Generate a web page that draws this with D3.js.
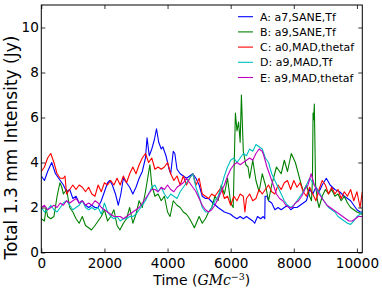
<!DOCTYPE html>
<html lang="en">
<head>
  <meta charset="UTF-8">
  <title>Total 1.3 mm Intensity</title>
  <script src="https://cdn.jsdelivr.net/npm/d3@7"></script>
  <style>
    body { margin: 0; background: #fff; }
    text { font-family: "DejaVu Sans", sans-serif; }
  </style>
</head>
<body>
  <svg id="chart" width="382" height="294"></svg>
  <script>
    // [time, intensity]
    const seriesA = [[0,3.4],[100,3.2],[200,3.6],[330,4.0],[450,3.5],[550,3.3],[700,3.0],[800,2.7],[900,2.8],[1000,2.4],[1100,2.5],[1200,2.2],[1300,2.3],[1400,2.1],[1500,2.0],[1600,2.1],[1700,2.0],[1800,2.0],[1900,2.3],[2000,2.7],[2100,3.1],[2170,3.2],[2250,3.0],[2350,2.6],[2440,2.1],[2520,2.6],[2600,3.3],[2700,3.1],[2800,2.9],[2900,2.6],[3000,2.9],[3100,3.3],[3200,3.6],[3300,4.2],[3350,5.1],[3420,4.3],[3500,4.6],[3580,5.0],[3650,5.5],[3720,4.9],[3800,4.6],[3850,4.7],[3950,4.3],[4050,3.7],[4100,3.5],[4180,4.5],[4230,4.4],[4300,3.7],[4400,3.5],[4500,3.4],[4600,3.3],[4700,3.4],[4800,3.5],[4900,3.3],[5000,3.0],[5100,2.5],[5200,2.4],[5300,2.4],[5440,2.2],[5600,2.0],[5800,1.8],[6000,1.7],[6080,1.6],[6200,1.5],[6300,1.6],[6400,1.5],[6500,1.6],[6600,1.5],[6700,1.4],[6760,1.3],[6850,1.6],[6950,1.5],[7030,1.6],[7080,1.5],[7090,2.5],[7150,2.5],[7200,2.3],[7300,2.2],[7400,1.9],[7500,2.0],[7600,1.9],[7700,2.0],[7800,2.1],[7900,1.9],[8000,2.0],[8100,2.0],[8200,2.1],[8300,2.2],[8400,2.3],[8500,2.8],[8600,2.6],[8700,2.9],[8800,2.7],[8900,3.0],[9030,3.3],[9150,3.0],[9300,2.8],[9450,2.7],[9600,2.5],[9700,2.4],[9800,2.3],[9900,2.1],[10000,1.9],[10100,1.8],[10170,1.8]];
    const seriesB = [[0,1.5],[100,1.4],[150,2.0],[200,1.6],[300,1.5],[400,1.6],[500,2.5],[590,3.1],[650,2.9],[700,2.6],[800,2.8],[900,2.0],[1000,1.8],[1100,1.5],[1200,1.3],[1300,1.6],[1400,1.2],[1500,1.1],[1590,1.0],[1700,1.2],[1800,1.4],[1900,1.6],[2000,1.9],[2100,1.4],[2200,1.6],[2300,1.9],[2400,1.2],[2490,1.0],[2600,1.3],[2700,1.5],[2800,2.0],[2900,1.3],[3000,1.7],[3100,2.3],[3200,2.0],[3300,2.7],[3440,3.9],[3500,3.0],[3600,2.5],[3700,2.6],[3800,2.3],[3900,2.5],[4000,1.8],[4080,1.6],[4180,2.3],[4300,2.1],[4400,2.0],[4500,1.8],[4600,1.7],[4700,1.5],[4850,1.1],[5000,1.6],[5100,1.3],[5200,1.5],[5300,1.8],[5400,2.0],[5500,2.5],[5600,2.3],[5700,3.0],[5800,2.6],[5900,3.3],[6000,2.2],[6080,2.0],[6150,6.2],[6200,5.4],[6250,5.8],[6300,4.9],[6340,7.0],[6400,4.5],[6480,3.9],[6550,3.8],[6600,3.3],[6700,4.1],[6800,3.2],[6900,2.7],[7000,3.5],[7100,3.0],[7200,2.3],[7300,3.0],[7450,3.8],[7600,3.5],[7700,4.1],[7800,3.6],[7920,4.4],[8050,4.0],[8200,3.2],[8300,2.7],[8400,3.0],[8500,2.5],[8560,2.3],[8590,3.2],[8610,6.2],[8630,5.9],[8650,6.6],[8690,3.0],[8750,2.3],[8800,2.0],[8900,2.5],[9000,2.8],[9100,2.6],[9200,2.8],[9300,2.5],[9400,2.6],[9500,2.3],[9600,2.5],[9700,2.2],[9800,2.0],[9900,1.9],[10000,1.8],[10170,1.7]];
    const seriesC = [[0,3.6],[100,3.8],[200,4.2],[300,4.4],[400,4.0],[500,3.5],[600,3.3],[700,3.3],[750,3.4],[800,2.6],[900,2.8],[1000,3.0],[1100,2.8],[1200,3.0],[1300,2.9],[1400,2.7],[1500,2.9],[1600,2.6],[1700,2.5],[1800,3.0],[1900,2.7],[2000,3.1],[2100,3.0],[2200,3.2],[2300,3.0],[2400,3.3],[2500,3.0],[2600,3.4],[2700,3.1],[2800,3.5],[2900,3.8],[3000,3.5],[3100,3.9],[3200,4.2],[3300,4.4],[3400,4.0],[3500,4.2],[3600,3.7],[3700,3.8],[3800,3.7],[3900,3.8],[4000,4.0],[4100,3.5],[4200,3.2],[4300,3.4],[4400,3.0],[4500,3.4],[4600,3.0],[4700,3.3],[4800,3.5],[4900,3.0],[5000,3.3],[5100,2.6],[5200,2.5],[5300,2.4],[5400,2.6],[5500,2.5],[5600,2.7],[5700,2.9],[5800,2.4],[5900,2.5],[6000,2.1],[6100,2.5],[6200,2.3],[6300,2.6],[6400,2.5],[6450,1.8],[6500,2.4],[6600,2.6],[6700,2.3],[6800,2.4],[6900,2.8],[7000,2.6],[7100,2.8],[7200,3.0],[7300,2.7],[7400,2.6],[7500,3.0],[7600,2.8],[7700,3.1],[7800,3.2],[7900,2.8],[8000,3.2],[8100,2.9],[8200,3.1],[8300,2.7],[8400,2.5],[8500,2.9],[8600,2.6],[8700,2.3],[8800,2.8],[8900,3.2],[9000,3.0],[9100,2.6],[9200,2.9],[9300,2.6],[9400,2.8],[9500,2.4],[9600,2.7],[9700,2.5],[9800,2.8],[9900,2.3],[10000,2.7],[10100,2.0],[10170,2.7]];
    const seriesD = [[0,2.0],[100,1.8],[200,1.9],[300,2.1],[400,1.9],[500,1.8],[600,2.0],[700,2.2],[800,2.3],[900,2.1],[1000,1.9],[1100,2.0],[1200,2.1],[1300,2.3],[1400,2.0],[1500,1.9],[1600,2.0],[1700,1.9],[1800,2.0],[1900,1.7],[2000,2.2],[2100,1.8],[2200,1.6],[2300,1.5],[2400,1.6],[2500,1.4],[2600,1.5],[2700,1.5],[2800,1.6],[2900,1.6],[3000,1.7],[3100,1.9],[3200,2.1],[3300,2.3],[3400,2.6],[3500,2.9],[3600,3.0],[3700,2.7],[3800,2.9],[3900,2.6],[4000,2.4],[4100,2.6],[4200,2.5],[4300,2.4],[4400,2.7],[4500,2.9],[4600,3.1],[4700,3.3],[4800,3.5],[4900,2.9],[5000,2.5],[5100,2.0],[5200,1.8],[5300,1.8],[5400,2.0],[5500,2.3],[5600,2.5],[5700,2.9],[5800,3.4],[5900,3.8],[6000,4.1],[6100,4.2],[6200,4.0],[6300,4.2],[6400,4.4],[6500,4.3],[6600,4.6],[6700,4.5],[6800,4.8],[6900,4.7],[7000,4.6],[7100,4.2],[7200,4.0],[7300,3.5],[7400,3.2],[7500,2.9],[7600,2.6],[7700,2.3],[7800,2.1],[7900,2.0],[8000,2.1],[8100,2.3],[8200,2.5],[8300,2.7],[8400,3.0],[8500,3.3],[8600,3.1],[8700,2.9],[8800,2.7],[8900,2.4],[9000,2.2],[9100,2.0],[9200,1.9],[9300,1.8],[9400,1.6],[9500,1.5],[9600,1.4],[9700,1.3],[9800,1.25],[9900,1.4],[10000,1.6],[10100,1.7],[10170,1.8]];
    const seriesE = [[0,2.0],[100,2.1],[200,1.9],[300,2.0],[400,2.1],[500,2.0],[600,2.2],[700,2.1],[800,2.3],[900,2.2],[1000,2.3],[1100,2.4],[1200,2.2],[1300,2.3],[1400,2.1],[1500,2.2],[1600,2.1],[1700,2.3],[1800,2.2],[1900,2.0],[2000,1.9],[2100,1.8],[2200,1.7],[2300,1.6],[2400,1.6],[2500,1.6],[2600,1.5],[2700,1.6],[2800,1.7],[2900,1.8],[3000,1.9],[3100,2.0],[3200,2.2],[3300,2.4],[3400,2.6],[3500,2.8],[3600,2.8],[3700,2.7],[3800,2.9],[3900,2.8],[4000,3.0],[4100,2.8],[4200,2.7],[4300,2.9],[4400,3.0],[4500,3.1],[4600,3.3],[4700,3.1],[4800,2.9],[4900,2.7],[5000,2.4],[5100,2.1],[5200,1.9],[5300,1.8],[5400,1.9],[5500,2.1],[5600,2.4],[5700,2.7],[5800,3.0],[5900,3.4],[6000,3.7],[6100,3.9],[6200,4.0],[6300,3.9],[6400,4.0],[6500,4.1],[6600,4.2],[6700,4.1],[6800,4.4],[6900,4.6],[7000,4.5],[7050,4.3],[7150,3.8],[7250,3.4],[7350,3.0],[7450,2.6],[7550,2.4],[7650,2.3],[7750,2.1],[7850,2.0],[7950,2.0],[8050,2.2],[8150,2.3],[8250,2.5],[8350,2.8],[8450,3.0],[8550,3.5],[8650,3.0],[8750,2.7],[8850,2.5],[8950,2.3],[9050,2.1],[9150,2.0],[9250,1.9],[9350,1.8],[9450,1.7],[9550,1.6],[9650,1.5],[9750,1.4],[9850,1.4],[9950,1.5],[10050,1.6],[10170,1.6]];

    const labels = ['A: a7,SANE,Tf', 'B: a9,SANE,Tf', 'C: a0,MAD,thetaf', 'D: a9,MAD,Tf', 'E: a9,MAD,thetaf'];
    const colors = ['#0000ff', '#008000', '#ff0000', '#00bfbf', '#bf00bf'];
    const xTicks = [0, 2000, 4000, 6000, 8000, 10000];
    const yTicks = [0, 2, 4, 6, 8, 10];

    const allSeries = [seriesA, seriesB, seriesC, seriesD, seriesE];

    const plotL = 41.3, plotR = 362.3, plotT = 5, plotB = 252.5;
    const svg = d3.select('#chart');

    const x = d3.scaleLinear().domain([0, 10170]).range([plotL, plotR]);
    const y = d3.scaleLinear().domain([0, 11]).range([plotB, plotT]);

    svg.append('clipPath').attr('id', 'plotClip')
      .append('rect')
      .attr('x', plotL).attr('y', plotT)
      .attr('width', plotR - plotL).attr('height', plotB - plotT);

    const line = d3.line().x(d => x(d[0])).y(d => y(d[1]));

    let plot = svg.append('g').attr('clip-path', 'url(#plotClip)');
    allSeries.forEach((s, i) => {
      plot.append('path')
        .attr('d', line(s))
        .attr('fill', 'none')
        .attr('stroke', colors[i])
        .attr('stroke-width', 1.1)
        .attr('stroke-linejoin', 'round');
    });

    // axes, ticks inward on all four sides
    const tickLen = 4;
    let bottomAxis = svg.append('g').attr('transform', `translate(0, ${plotB})`)
      .call(d3.axisBottom(x).tickValues(xTicks).tickSizeInner(-tickLen).tickSizeOuter(0).tickPadding(6).tickFormat(d3.format('d')));
    let topAxis = svg.append('g').attr('transform', `translate(0, ${plotT})`)
      .call(d3.axisTop(x).tickValues(xTicks).tickSizeInner(-tickLen).tickSizeOuter(0).tickFormat(''));
    let leftAxis = svg.append('g').attr('transform', `translate(${plotL}, 0)`)
      .call(d3.axisLeft(y).tickValues(yTicks).tickSizeInner(-tickLen).tickSizeOuter(0).tickPadding(2.5));
    let rightAxis = svg.append('g').attr('transform', `translate(${plotR}, 0)`)
      .call(d3.axisRight(y).tickValues(yTicks).tickSizeInner(-tickLen).tickSizeOuter(0).tickFormat(''));

    [bottomAxis, topAxis, leftAxis, rightAxis].forEach(a => {
      a.select('.domain').remove();
      a.selectAll('line').attr('stroke', '#000').attr('stroke-width', 0.8);
      a.selectAll('text').attr('font-size', 13.6).attr('fill', '#000')
        .style('font-family', '"DejaVu Sans", sans-serif');
    });

    svg.append('rect')
      .attr('x', plotL).attr('y', plotT)
      .attr('width', plotR - plotL).attr('height', plotB - plotT)
      .attr('fill', 'none').attr('stroke', '#000').attr('stroke-width', 1);

    // axis titles
    let xt = svg.append('text')
      .attr('x', (plotL + plotR) / 2).attr('y', 285)
      .attr('text-anchor', 'middle')
      .attr('font-size', 14);
    xt.append('tspan').text('Time (');
    xt.append('tspan').attr('font-family', '"DejaVu Serif", serif').attr('font-style', 'italic').text('GMc');
    xt.append('tspan').attr('font-family', '"DejaVu Serif", serif').attr('font-size', 9.5).attr('dy', -5).text('−3');
    xt.append('tspan').attr('dy', 5).text(')');

    svg.append('text')
      .attr('transform', 'translate(16.5, 147.5) rotate(-90)')
      .attr('text-anchor', 'middle')
      .attr('font-size', 17)
      .text('Total 1.3 mm Intensity (Jy)');

    // legend
    let legend = svg.append('g');
    labels.forEach((l, i) => {
      let ly = 16.7 + i * 15.2;
      legend.append('line')
        .attr('x1', 238).attr('x2', 253).attr('y1', ly).attr('y2', ly)
        .attr('stroke', colors[i]).attr('stroke-width', 1.1);
      legend.append('text')
        .attr('x', 260).attr('y', ly + 4)
        .attr('font-size', 11)
        .text(l);
    });
  </script>
</body>
</html>
